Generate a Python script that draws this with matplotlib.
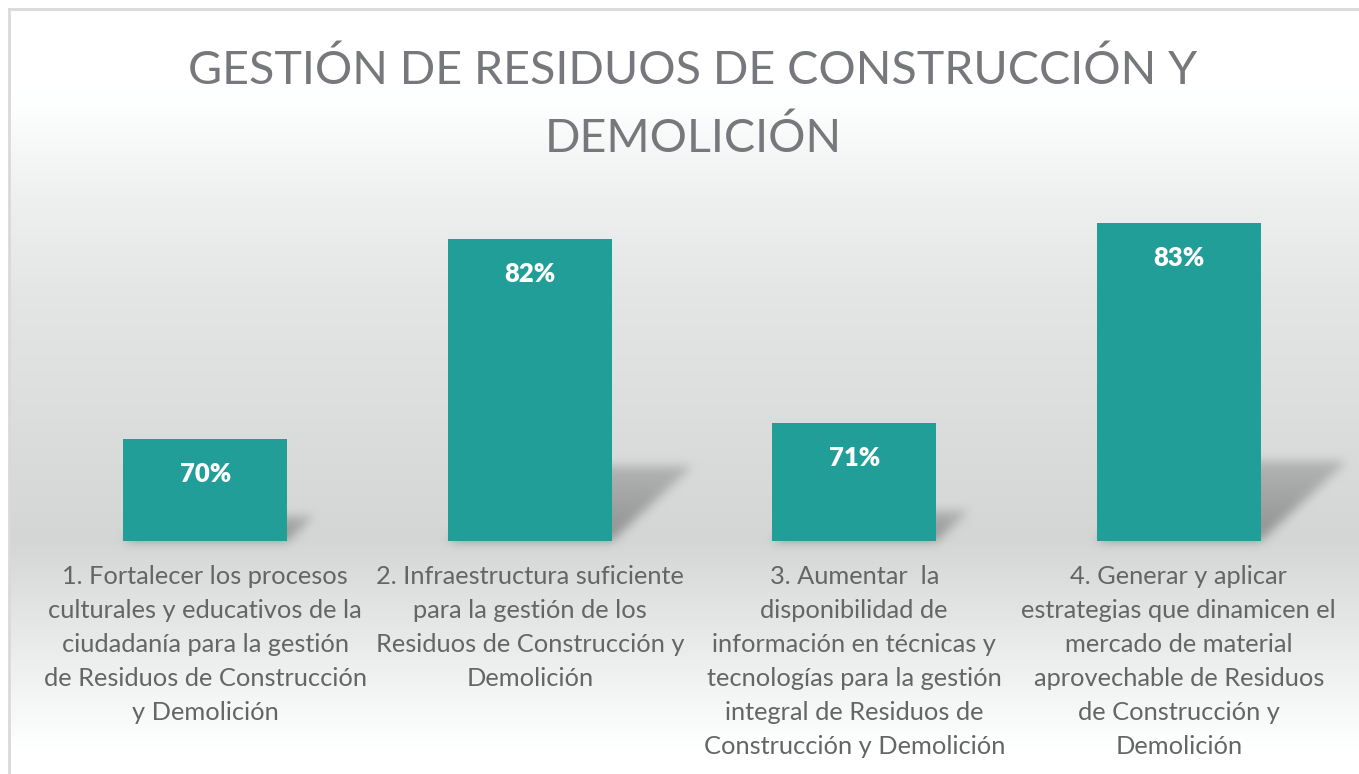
import numpy as np
import matplotlib.pyplot as plt

# datos del gráfico
categorias = [
    "1. Fortalecer los procesos\nculturales y educativos de la\nciudadanía para la gestión\nde Residuos de Construcción\ny Demolición",
    "2. Infraestructura suficiente\npara la gestión de los\nResiduos de Construcción y\nDemolición",
    "3. Aumentar  la\ndisponibilidad de\ninformación en técnicas y\ntecnologías para la gestión\nintegral de Residuos de\nConstrucción y Demolición",
    "4. Generar y aplicar\nestrategias que dinamicen el\nmercado de material\naprovechable de Residuos\nde Construcción y\nDemolición",
]
valores = [70, 82, 71, 83]
titulo = "GESTIÓN DE RESIDUOS DE CONSTRUCCIÓN Y\nDEMOLICIÓN"

verde = "#229e99"
gris_texto = "#656565"
gris_titulo = "#77787b"
fuente = ["Lato", "DejaVu Sans"]

W, H = 1359, 774
fig = plt.figure(figsize=(W / 100, H / 100), dpi=100)

fondo = fig.add_axes([0, 0, 1, 1], zorder=0)
fondo.set_xlim(0, W)
fondo.set_ylim(0, H)
fondo.axis("off")

ax = fig.add_axes([43 / W, (H - 541) / H, 1298 / W, 341 / H], zorder=1)
ax.patch.set_alpha(0)
x = np.arange(len(valores))
barras = ax.bar(x, valores, width=0.505, color=verde, zorder=3)
ax.set_xlim(-0.5, 3.5)
ax.set_ylim(63.9, 84.35)
ax.axis("off")

# fondo degradado: blanco arriba, gris claro a la altura de la base
filas = np.arange(H) + 0.5
paradas = [0, 90, 200, 300, 540, 754, H]
niveles = [1.0, 1.0, 0.93, 0.89, 0.83, 1.0, 1.0]
g = np.interp(filas, paradas, niveles)
img = np.ones((H, W, 3))
img[:, :, 0] = g[:, None]
img[:, :, 1] = (g + 0.01 * (g < 1))[:, None]
img[:, :, 2] = (g + 0.005 * (g < 1))[:, None]
img = np.clip(img, 0, 1)
img[:, :9] = 1.0
img[:8, :] = 1.0


def desenfocar(m, sigma):
    r = int(3 * sigma)
    k = np.exp(-0.5 * (np.arange(-r, r + 1) / sigma) ** 2)
    k /= k.sum()
    m = np.apply_along_axis(lambda f: np.convolve(f, k, mode="same"), 0, m)
    m = np.apply_along_axis(lambda f: np.convolve(f, k, mode="same"), 1, m)
    return m


# sombra en perspectiva detrás de cada barra
XX, YY = np.meshgrid(np.arange(W) + 0.5, H - (np.arange(H) + 0.5))
y0 = ax.get_ylim()[0]
sombra = np.zeros((H, W))
for b, v in zip(barras, valores):
    xl, yb = ax.transData.transform((b.get_x(), y0))
    xr, yt = ax.transData.transform((b.get_x() + b.get_width(), v))
    h = yt - yb
    dy, dx = 0.25 * h, 0.27 * h
    yy = YY - yb
    t = yy / dy
    xs = XX - t * dx
    dentro = (yy >= 0) & (yy <= dy) & (xs >= xl) & (xs <= xr)
    sombra = np.maximum(sombra, dentro * (1 - 0.45 * np.clip(t, 0, 1)))
sombra = desenfocar(sombra, 5)
img = img * (1 - 0.32 * sombra[:, :, None])

fondo.imshow(img, extent=(0, W, 0, H), origin="upper", aspect="auto", zorder=0)
fondo.plot([9, 9], [0, H - 9], color="#d9d9d9", lw=2, zorder=1)
fondo.plot([9, W], [H - 9, H - 9], color="#d9d9d9", lw=2, zorder=1)

# etiquetas de valor
for xi, v in zip(x, valores):
    ax.annotate(f"{v}%", xy=(xi, v), xytext=(0, -35), textcoords="offset pixels",
                ha="center", va="center", color="white", fontsize=18.5,
                fontweight="heavy", family=fuente, zorder=4)

# categorías bajo cada barra
for xi, c in zip(x, categorias):
    ax.annotate(c, xy=(xi, y0), xytext=(0, -24), textcoords="offset pixels",
                ha="center", va="top", color=gris_texto, fontsize=18.3,
                linespacing=1.575, family=fuente, annotation_clip=False)

fig.text(693 / W, 1 - 104 / H, titulo, ha="center", va="center", color=gris_titulo,
         fontsize=33.6, linespacing=1.7, family=fuente)

fig.savefig("out.png", dpi=100)
